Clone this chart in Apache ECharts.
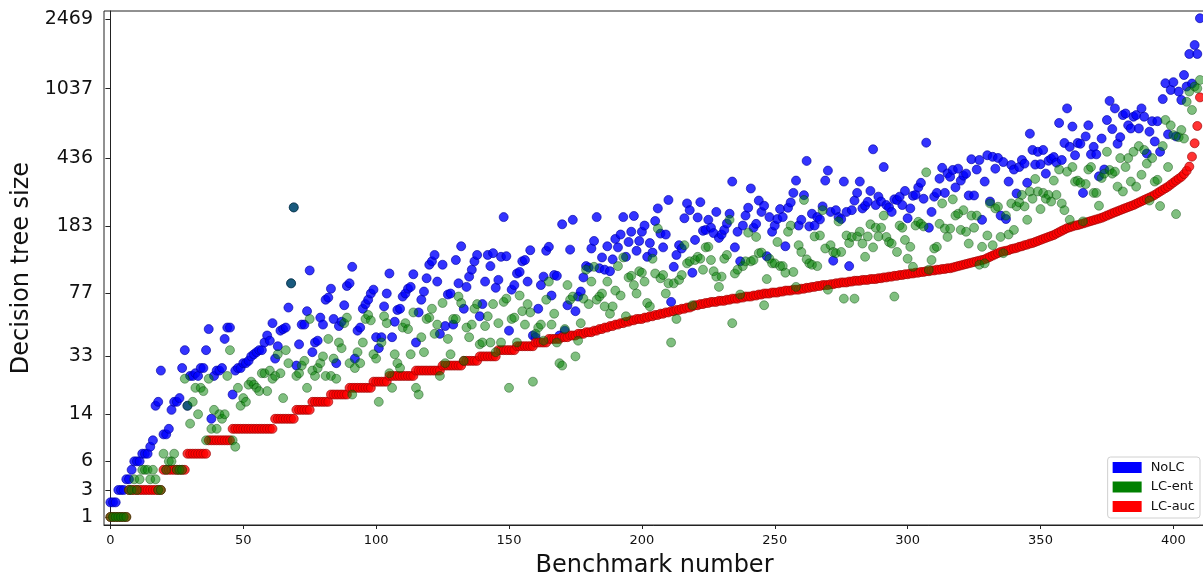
<!DOCTYPE html>
<html>
<head>
<meta charset="utf-8">
<script src="https://cdn.jsdelivr.net/npm/echarts@6/dist/echarts.min.js"></script>
<style>
  html, body { margin: 0; padding: 0; background: #fff; }
  #chart { width: 1203px; height: 573px; }
</style>
</head>
<body>
<div id="chart"></div>
<script>
// Decision tree sizes per benchmark (benchmarks ordered by LC-auc size)
const noLC = [
  2, 2, 2, 3, 3, 3, 4, 4, 5, 6,
  6, 6, 7, 7, 7, 8, 9, 16, 17, 27,
  10, 10, 11, 15, 17, 17, 18, 28, 36, 16,
  25, 25, 26, 25, 28, 28, 36, 48, 13, 25,
  27, 27, 28, 42, 49, 49, 19, 27, 28, 28,
  30, 30, 31, 33, 34, 35, 36, 36, 40, 44,
  41, 52, 32, 38, 47, 48, 49, 64, 88, 233,
  29, 39, 51, 51, 61, 104, 35, 40, 41, 56,
  51, 71, 73, 82, 55, 30, 50, 53, 66, 85,
  88, 109, 32, 47, 49, 63, 67, 71, 77, 81,
  43, 37, 43, 65, 77, 100, 43, 53, 62, 63,
  74, 77, 82, 84, 99, 40, 60, 71, 79, 94,
  112, 117, 127, 90, 45, 112, 50, 76, 77, 51,
  119, 88, 142, 63, 84, 96, 105, 117, 127, 57,
  67, 90, 127, 110, 130, 83, 92, 124, 206, 125,
  47, 81, 86, 100, 102, 117, 119, 90, 135, 44,
  43, 63, 86, 96, 134, 141, 75, 98, 97, 44,
  188, 47, 66, 136, 199, 61, 74, 79, 95, 110,
  108, 138, 152, 206, 107, 123, 105, 142, 103, 120,
  156, 140, 165, 206, 124, 150, 171, 209, 134, 152,
  171, 185, 124, 148, 131, 196, 230, 167, 140, 165,
  256, 69, 109, 127, 144, 138, 203, 245, 225, 101,
  154, 205, 249, 173, 175, 199, 180, 168, 220, 158,
  165, 175, 190, 215, 323, 140, 171, 117, 185, 210,
  232, 296, 180, 189, 254, 220, 238, 125, 206, 171,
  185, 201, 228, 206, 142, 232, 248, 280, 327, 185,
  199, 272, 419, 183, 215, 185, 206, 200, 236, 327,
  371, 220, 118, 225, 206, 201, 323, 220, 110, 225,
  254, 280, 323, 230, 238, 250, 287, 485, 240, 267,
  251, 388, 240, 233, 220, 258, 256, 267, 240, 287,
  203, 230, 270, 273, 300, 318, 260, 527, 180, 220,
  267, 280, 335, 384, 280, 358, 343, 374, 300, 380,
  327, 348, 357, 271, 428, 271, 376, 424, 199, 323,
  450, 251, 441, 380, 435, 210, 413, 201, 323, 398,
  376, 278, 388, 424, 405, 318, 590, 481, 400, 470,
  402, 481, 357, 420, 430, 440, 410, 675, 424, 525,
  810, 500, 645, 450, 525, 520, 280, 570, 655, 455,
  500, 455, 345, 555, 376, 700, 890, 625, 810, 520,
  565, 745, 760, 655, 630, 730, 745, 630, 810, 730,
  460, 605, 690, 535, 690, 470, 910, 1110, 585, 1020,
  1125, 570, 1000, 900, 1230, 1065, 1600, 1105, 1790, 1600, 2500
];

const lcEnt = [
  1, 1, 1, 1, 1, 1, 1, 3, 3, 4,
  3, 4, 5, 5, 5, 4, 5, 4, 3, 3,
  7, 5, 6, 6, 7, 5, 5, 5, 24, 16,
  12, 17, 21, 14, 21, 20, 9, 24, 11, 15,
  11, 14, 13, 14, 25, 36, 9, 8, 21, 16,
  18, 17, 22, 23, 22, 21, 20, 26, 26, 20,
  27, 24, 25, 34, 26, 18, 36, 30, 88, 233,
  25, 26, 29, 31, 21, 55, 27, 25, 28, 30,
  33, 25, 42, 25, 32, 24, 40, 37, 52, 56,
  30, 19, 28, 35, 30, 40, 55, 58, 54, 34,
  32, 17, 40, 57, 52, 26, 21, 34, 30, 28,
  49, 52, 48, 34, 60, 21, 19, 43, 35, 55,
  56, 63, 45, 51, 25, 68, 30, 42, 34, 55,
  55, 74, 68, 31, 49, 43, 51, 63, 67, 39,
  40, 50, 57, 40, 67, 35, 52, 40, 69, 72,
  21, 55, 56, 40, 75, 61, 51, 67, 60, 23,
  45, 49, 51, 41, 71, 90, 51, 59, 40, 30,
  29, 48, 86, 71, 74, 33, 41, 52, 72, 105,
  67, 90, 109, 71, 74, 77, 65, 90, 59, 65,
  80, 110, 75, 123, 57, 95, 97, 86, 77, 103,
  101, 90, 68, 65, 121, 100, 178, 94, 98, 77,
  88, 40, 88, 55, 92, 98, 144, 114, 117, 66,
  119, 124, 121, 105, 140, 141, 119, 103, 96, 84,
  96, 121, 127, 199, 52, 100, 105, 76, 110, 117,
  169, 117, 119, 160, 130, 131, 66, 93, 121, 114,
  114, 150, 110, 110, 101, 171, 185, 102, 84, 144,
  132, 256, 120, 114, 112, 161, 110, 163, 225, 138,
  81, 144, 132, 130, 195, 132, 72, 163, 148, 160,
  72, 161, 171, 147, 124, 161, 188, 140, 180, 161,
  180, 210, 160, 150, 147, 74, 132, 185, 180, 154,
  121, 141, 109, 185, 194, 189, 183, 363, 105, 119,
  138, 141, 189, 245, 178, 160, 178, 258, 210, 215,
  175, 225, 171, 147, 210, 180, 210, 112, 141, 114,
  163, 245, 144, 230, 235, 160, 130, 210, 165, 245,
  175, 236, 248, 273, 236, 199, 285, 260, 334, 285,
  228, 280, 260, 273, 251, 327, 273, 376, 245, 225,
  366, 199, 388, 323, 327, 318, 195, 313, 376, 388,
  280, 280, 238, 338, 357, 470, 374, 357, 366, 303,
  434, 285, 388, 434, 323, 470, 303, 505, 352, 481,
  405, 254, 434, 323, 330, 237, 505, 701, 388, 655,
  580, 214, 565, 618, 555, 880, 1000, 794, 1065, 1040, 1156
];

const lcAuc = [
  1, 1, 1, 1, 1, 1, 1, 3, 3, 3,
  3, 3, 3, 3, 3, 3, 3, 3, 3, 3,
  5, 5, 5, 5, 5, 5, 5, 5, 5, 7,
  7, 7, 7, 7, 7, 7, 7, 9, 9, 9,
  9, 9, 9, 9, 9, 9, 11, 11, 11, 11,
  11, 11, 11, 11, 11, 11, 11, 11, 11, 11,
  11, 11, 13, 13, 13, 13, 13, 13, 13, 13,
  15, 15, 15, 15, 15, 15, 17, 17, 17, 17,
  17, 17, 17, 19, 19, 19, 19, 19, 19, 19,
  21, 21, 21, 21, 21, 21, 21, 21, 21, 23,
  23, 23, 23, 23, 23, 25, 25, 25, 25, 25,
  25, 25, 25, 25, 25, 27, 27, 27, 27, 27,
  27, 27, 27, 27, 27, 29, 29, 29, 29, 29,
  29, 29, 29, 31, 31, 31, 31, 31, 31, 33,
  33, 33, 33, 33, 33, 33, 36, 36, 36, 36,
  36, 36, 36, 38, 38, 38, 38, 38, 38, 38,
  40, 40, 40, 40, 40, 42, 42, 42, 42, 42,
  43, 43, 43, 44, 44, 44, 45, 45, 45, 46,
  46, 46, 47, 47, 48, 48, 49, 49, 50, 50,
  51, 51, 52, 52, 53, 53, 54, 54, 55, 55,
  55, 56, 56, 57, 57, 58, 58, 59, 59, 60,
  60, 61, 61, 62, 62, 63, 63, 64, 64, 65,
  66, 66, 67, 67, 68, 68, 69, 69, 69, 70,
  70, 70, 71, 71, 72, 72, 72, 73, 73, 74,
  74, 74, 75, 75, 76, 76, 77, 77, 77, 78,
  78, 78, 79, 79, 80, 80, 80, 81, 81, 81,
  82, 82, 83, 83, 84, 84, 85, 85, 86, 86,
  86, 87, 87, 88, 88, 89, 89, 89, 90, 90,
  91, 91, 91, 92, 92, 92, 93, 93, 93, 94,
  94, 95, 95, 96, 96, 97, 97, 98, 98, 99,
  99, 100, 100, 101, 101, 102, 102, 103, 103, 104,
  104, 105, 105, 106, 106, 107, 107, 108, 109, 110,
  111, 112, 113, 114, 115, 116, 117, 118, 119, 120,
  122, 124, 126, 128, 130, 132, 133, 134, 135, 137,
  138, 139, 141, 142, 144, 145, 147, 148, 150, 152,
  154, 156, 158, 160, 162, 164, 167, 170, 173, 176,
  179, 181, 183, 185, 186, 188, 190, 192, 194, 196,
  198, 200, 202, 204, 207, 210, 213, 216, 219, 222,
  225, 228, 231, 234, 237, 240, 244, 248, 252, 256,
  260, 264, 268, 273, 279, 285, 291, 297, 303, 311,
  319, 327, 335, 343, 355, 370, 390, 442, 523, 650, 930
];

// Size axis tick labels and benchmark axis ticks
const yTickLabels = [1, 3, 6, 14, 33, 77, 183, 436, 1037, 2469];
const xTickValues = [0, 50, 100, 150, 200, 250, 300, 350, 400];

// The size axis is logarithmic with an offset: position = ln(size + 4)
const OFFSET = 4;
const toAxis = v => Math.log(v + OFFSET);

const yTickPos = yTickLabels.map(toAxis);
const yLabelOf = {};
yTickLabels.forEach((t, i) => { yLabelOf[yTickPos[i].toFixed(6)] = String(t); });

const toPoints = arr => arr.map((v, i) => [i, toAxis(v)]);

const FONT = 'DejaVu Sans';
const chart = echarts.init(document.getElementById('chart'), null, { renderer: 'canvas' });

chart.setOption({
  animation: false,
  backgroundColor: '#ffffff',
  grid: {
    left: 104, right: -2, top: 11, bottom: 48,
    containLabel: false,
    outerBoundsMode: 'none',
    show: true, borderColor: '#222', borderWidth: 1, backgroundColor: 'transparent'
  },
  legend: {
    orient: 'vertical',
    right: 3, bottom: 55,
    icon: 'rect',
    itemWidth: 29, itemHeight: 11, itemGap: 6.5,
    padding: [4, 5, 5, 5],
    borderColor: '#d0d0d0', borderWidth: 1, borderRadius: 3,
    backgroundColor: '#fff',
    textStyle: { fontFamily: FONT, fontSize: 13, color: '#111', padding: [0, 0, 0, 4] },
    data: [
      { name: 'NoLC', itemStyle: { color: '#0000ff', opacity: 1, borderWidth: 0 } },
      { name: 'LC-ent', itemStyle: { color: '#008000', opacity: 1, borderWidth: 0 } },
      { name: 'LC-auc', itemStyle: { color: '#ff0000', opacity: 1, borderWidth: 0 } }
    ]
  },
  xAxis: {
    type: 'value',
    min: -2.4, max: 411.9,
    name: 'Benchmark number',
    nameLocation: 'middle', nameGap: 29,
    nameTextStyle: { fontFamily: FONT, fontSize: 24, color: '#111' },
    axisLine: { show: true, lineStyle: { color: '#222', width: 1 } },
    axisTick: { show: true, length: 4, customValues: xTickValues, lineStyle: { color: '#222' } },
    axisLabel: {
      customValues: xTickValues, margin: 9,
      fontFamily: FONT, fontSize: 13, color: '#111'
    },
    splitLine: { show: false }
  },
  yAxis: {
    type: 'value',
    min: 1.5094, max: 7.916,
    name: 'Decision tree size',
    nameLocation: 'middle', nameGap: 66, nameRotate: 90,
    nameTextStyle: { fontFamily: FONT, fontSize: 24, color: '#111' },
    axisLine: { show: true, lineStyle: { color: '#222', width: 1 } },
    axisTick: { show: true, length: 5, customValues: yTickPos, lineStyle: { color: '#222' } },
    axisLabel: {
      customValues: yTickPos, margin: 11,
      fontFamily: FONT, fontSize: 19, color: '#111',
      formatter: v => yLabelOf[Number(v).toFixed(6)] || ''
    },
    splitLine: { show: false }
  },
  series: [
    {
      name: 'NoLC', type: 'scatter', symbolSize: 9, z: 2,
      itemStyle: { color: '#0000ff', borderColor: '#0000a0', borderWidth: 0.8 },
      data: toPoints(noLC)
    },
    {
      name: 'LC-auc', type: 'scatter', symbolSize: 9, z: 3,
      itemStyle: { color: '#ff0000', borderColor: '#9a0000', borderWidth: 0.8 },
      data: toPoints(lcAuc)
    },
    {
      name: 'LC-ent', type: 'scatter', symbolSize: 9, z: 4,
      itemStyle: { color: '#008000', opacity: 0.5, borderColor: '#004000', borderWidth: 0.8 },
      data: toPoints(lcEnt)
    }
  ]
});
</script>
</body>
</html>
